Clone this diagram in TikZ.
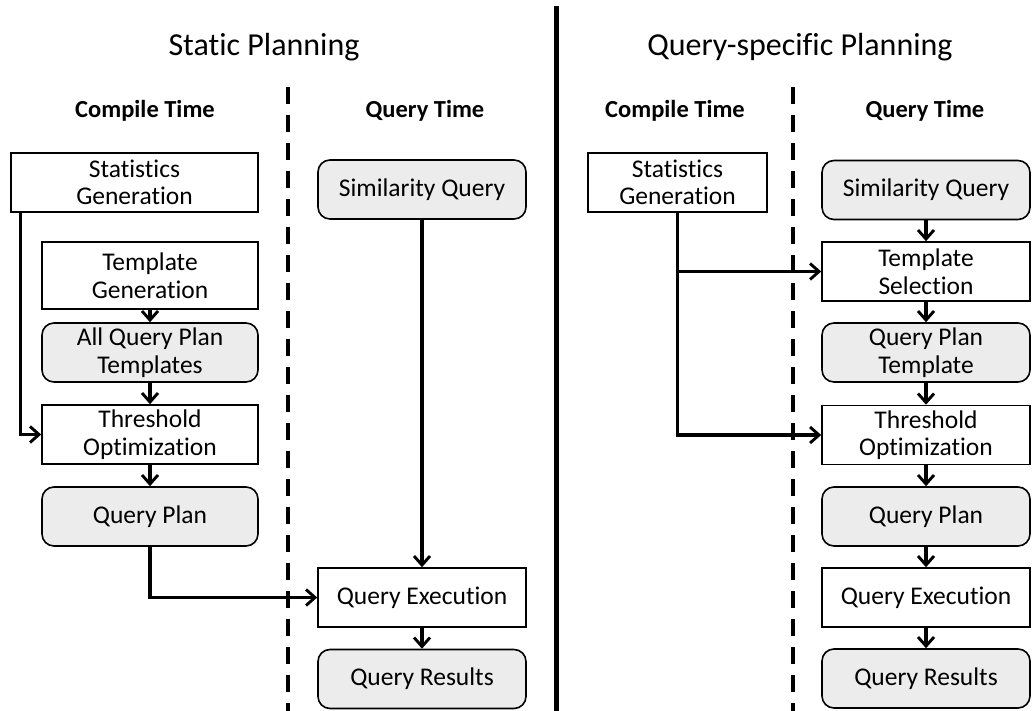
\documentclass[tikz,border=0pt]{standalone}
\usepackage{fontspec}
\setmainfont[Ligatures=NoCommon]{Carlito}
\usetikzlibrary{arrows.meta}

\tikzset{
  blk/.style={draw=black, line width=1.6pt, fill=white, align=center,
    inner sep=0pt, font=\fontsize{25.5}{27.5}\selectfont,
    minimum width=208pt, minimum height=59pt},
  rblk/.style={blk, fill=gray!15, rounded corners=12pt},
  flow/.style={line width=3.2pt,
    -{Straight Barb[length=9pt,width=16pt,line width=2.9pt]}},
  title/.style={font=\fontsize{32}{34}\selectfont, anchor=base},
  head/.style={font=\bfseries\fontsize{24.5}{28}\selectfont, anchor=base},
  phase/.style={line width=4.5pt, dash pattern=on 17pt off 11pt},
  divider/.style={line width=5pt}
}

\begin{document}
\begin{tikzpicture}[x=1pt,y=-1pt]
\useasboundingbox (0,0) rectangle (1032,711);

% ---- separators ----
\coordinate (dL0) at (288,87);  \coordinate (dL1) at (288,711);
\coordinate (dR0) at (793,87);  \coordinate (dR1) at (793,711);
\coordinate (mid0) at (556,6);  \coordinate (mid1) at (556,711);
\draw[phase] (dL0) -- (dL1);
\draw[phase] (dR0) -- (dR1);
\draw[divider] (mid0) -- (mid1);

% ---- headings ----
\node[title] (tL) at (264,56) {Static Planning};
\node[title] (tR) at (800,56) {Query-specific Planning};
\node[head] (ctL) at (145,118) {Compile Time};
\node[head] (qtL) at (425,118) {Query Time};
\node[head] (ctR) at (675,118) {Compile Time};
\node[head] (qtR) at (925,118) {Query Time};

% ---- static planning: compile time ----
\node[blk, minimum width=247pt] (sgL) at (134.5,182.5) {Statistics\\Generation};
\node[blk, minimum width=216pt, minimum height=67pt] (tgL) at (150,275.5) {Template\\Generation};
\node[rblk, minimum width=216pt] (aqL) at (150,352.5) {All Query Plan\\Templates};
\node[blk, minimum width=216pt] (thL) at (150,434.5) {Threshold\\Optimization};
\node[rblk, minimum width=216pt] (qpL) at (150,516.5) {Query Plan};

% ---- static planning: query time ----
\node[rblk] (sqL) at (422,189.5) {Similarity Query};
\node[blk] (qeL) at (422,597.5) {Query Execution};
\node[rblk] (qrL) at (422,679) {Query Results};

% ---- query-specific planning: compile time ----
\node[blk, minimum width=179pt] (sgR) at (677.5,182.5) {Statistics\\Generation};

% ---- query-specific planning: query time ----
\node[rblk] (sqR) at (926,190) {Similarity Query};
\node[blk] (tsR) at (926,271.5) {Template\\Selection};
\node[rblk] (qtpR) at (926,352.5) {Query Plan\\Template};
\node[blk] (thR) at (926,435) {Threshold\\Optimization};
\node[rblk] (qpR) at (926,516.5) {Query Plan};
\node[blk] (qeR) at (926,597.5) {Query Execution};
\node[rblk] (qrR) at (926,678.5) {Query Results};

% ---- connectors, static planning ----
\draw[flow] ([xshift=10pt]sgL.south west) |- (thL.west);
\draw[flow] (tgL) -- (aqL);
\draw[flow] (aqL) -- (thL);
\draw[flow] (thL) -- (qpL);
\draw[flow] (qpL.south) |- (qeL.west);
\draw[flow] (sqL) -- (qeL);
\draw[flow] (qeL) -- (qrL);

% ---- connectors, query-specific planning ----
\draw[flow] (sgR.south) |- (thR.west);
\draw[flow] (sgR.south |- tsR.west) -- (tsR.west);
\draw[flow] (sqR) -- (tsR);
\draw[flow] (tsR) -- (qtpR);
\draw[flow] (qtpR) -- (thR);
\draw[flow] (thR) -- (qpR);
\draw[flow] (qpR) -- (qeR);
\draw[flow] (qeR) -- (qrR);
\end{tikzpicture}
\end{document}
